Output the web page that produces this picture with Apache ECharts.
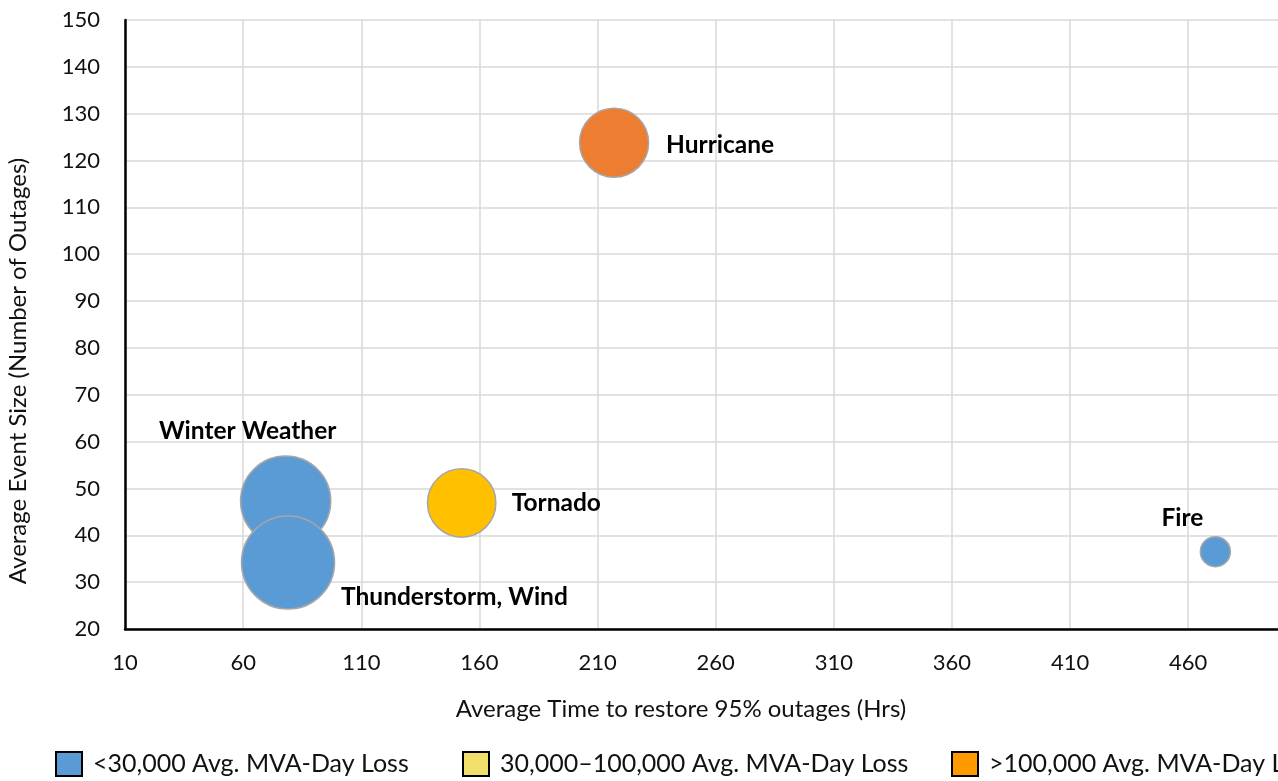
<!DOCTYPE html>
<html>
<head>
<meta charset="utf-8">
<script src="https://cdn.jsdelivr.net/npm/echarts@6/dist/echarts.min.js"></script>
<style>
  html, body { margin: 0; padding: 0; background: #fff; }
  #chart { width: 1278px; height: 781px; }
</style>
</head>
<body>
<div id="chart"></div>
<script>
// Weather hazard classes: restoration time vs. event size, bubble = relative weight
const hazards = ['Winter Weather', 'Thunderstorm, Wind', 'Tornado', 'Hurricane', 'Fire'];
const restoreHours = [78, 79, 152.5, 217, 471.5];
const eventSize = [47.3, 34.2, 46.9, 123.8, 36.5];
const bubbleWeight = [94, 100, 54, 55, 10.4];
const lossClass = [0, 0, 1, 2, 0];
const lossClassNames = ['<30,000 Avg. MVA-Day Loss', '30,000\u2013100,000 Avg. MVA-Day Loss', '>100,000 Avg. MVA-Day Loss'];

const FONT = 'Lato, "Open Sans", sans-serif';
const bubbleColors = { 'Winter Weather': '#5b9bd5', 'Thunderstorm, Wind': '#5b9bd5', 'Tornado': '#ffc000', 'Hurricane': '#ed7d31', 'Fire': '#5b9bd5' };
const legendColors = ['#5b9bd5', '#f2de6b', '#ff9900'];
const legendLeft = [55, 462, 951];

// label placement relative to bubble centre
const labelPlace = {
  'Winter Weather': { offset: [-38, -70], align: 'center' },
  'Thunderstorm, Wind': { offset: [53, 35], align: 'left' },
  'Tornado': { offset: [50, 0], align: 'left' },
  'Hurricane': { offset: [52, 2], align: 'left' },
  'Fire': { offset: [-33, -34], align: 'center' }
};

const series = lossClassNames.map((name, c) => ({
  name: name,
  type: 'scatter',
  symbol: 'circle',
  symbolSize: v => 93 * Math.sqrt(v[2] / 100),
  itemStyle: { color: legendColors[c], borderColor: '#a6a6a6', borderWidth: 1.5, opacity: 1 },
  emphasis: { disabled: true },
  data: hazards.map((h, i) => ({ h, i })).filter(d => lossClass[d.i] === c).map(({ h, i }) => ({
    name: h,
    value: [restoreHours[i], eventSize[i], bubbleWeight[i]],
    itemStyle: { color: bubbleColors[h] },
    label: {
      show: true,
      position: 'inside',
      offset: labelPlace[h].offset,
      align: labelPlace[h].align,
      verticalAlign: 'middle',
      formatter: '{b}',
      color: '#000',
      fontFamily: FONT,
      fontWeight: 'bold',
      fontSize: 24.5
    }
  }))
}));

const legends = lossClassNames.map((name, c) => ({
  left: legendLeft[c],
  top: 751,
  padding: 0,
  itemWidth: 26,
  itemHeight: 24,
  itemGap: 0,
  selectedMode: false,
  icon: 'rect',
  textStyle: { fontFamily: FONT, fontSize: 25, color: '#111', padding: [0, 0, 0, 6] },
  data: [{ name: name, itemStyle: { color: legendColors[c], borderColor: '#000', borderWidth: 2 } }]
}));

const chart = echarts.init(document.getElementById('chart'), null, { renderer: 'canvas' });
chart.setOption({
  animation: false,
  backgroundColor: '#fff',
  grid: { left: 125, top: 20, right: 0, bottom: 152, containLabel: false },
  legend: legends,
  xAxis: {
    type: 'value',
    min: 10, max: 498, interval: 50,
    axisLine: { show: true, onZero: false, lineStyle: { color: '#000', width: 2.5 } },
    axisTick: { show: false },
    axisLabel: { margin: 23, fontFamily: FONT, fontSize: 22, color: '#111', showMaxLabel: false },
    splitLine: { show: true, showMaxLine: false, lineStyle: { color: '#d9d9d9', width: 1.5 } }
  },
  yAxis: {
    type: 'value',
    min: 20, max: 150, interval: 10,
    axisLine: { show: true, onZero: false, lineStyle: { color: '#000', width: 2.5 } },
    axisTick: { show: false },
    axisLabel: { margin: 25, fontFamily: FONT, fontSize: 22, color: '#111' },
    splitLine: { show: true, lineStyle: { color: '#d9d9d9', width: 1.5 } }
  },
  graphic: [
    {
      type: 'text', x: 681, y: 709,
      style: { text: 'Average Time to restore 95% outages (Hrs)', fontFamily: FONT, fontSize: 24, fill: '#111', align: 'center', verticalAlign: 'middle' }
    },
    {
      type: 'text', x: 18, y: 371, rotation: Math.PI / 2,
      style: { text: 'Average Event Size (Number of Outages)', fontFamily: FONT, fontSize: 24, fill: '#111', align: 'center', verticalAlign: 'middle' }
    }
  ],
  series: series
});
</script>
</body>
</html>
